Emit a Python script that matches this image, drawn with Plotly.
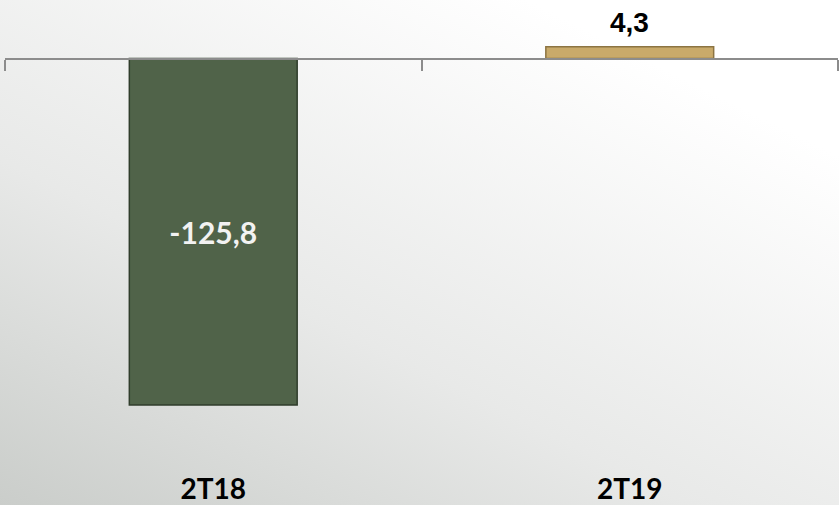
import base64
import plotly.graph_objects as go

categories = ["2T18", "2T19"]
values = [-125.8, 4.3]
bar_colors = ["#506349", "#c9aa6a"]
bar_edges = ["#2f3d2b", "#8c7442"]

W, H = 839, 505
M_L, M_R, M_T, M_B = 5, 1, 0, 35
y_min, y_max = -149.4, 21.24

svg = f'''<svg xmlns="http://www.w3.org/2000/svg" width="{W}" height="{H}">
<defs><linearGradient id="g" x1="0" y1="1" x2="0.75" y2="0.1">
<stop offset="0" stop-color="#cacdca"/>
<stop offset="0.45" stop-color="#e8e9e8"/>
<stop offset="1" stop-color="#ffffff"/>
</linearGradient></defs>
<rect width="{W}" height="{H}" fill="url(#g)"/></svg>'''
bg_src = "data:image/svg+xml;base64," + base64.b64encode(svg.encode()).decode()

inside_text = [f"{v:.1f}".replace(".", ",") if v < 0 else "" for v in values]

fig = go.Figure()
fig.add_trace(go.Bar(
    x=categories, y=values,
    marker=dict(color=bar_colors, line=dict(color=bar_edges, width=1.5)),
    width=0.403,
    text=inside_text,
    textposition="inside",
    insidetextanchor="middle",
    textfont=dict(family="Lato, Open Sans, sans-serif", size=30, color="#f2f2f2", weight="bold"),
    cliponaxis=False,
    hoverinfo="skip",
))

# labels above positive bars
for c, v in zip(categories, values):
    if v >= 0:
        fig.add_annotation(x=c, y=v, text=f"{v:.1f}".replace(".", ","), showarrow=False,
                           yanchor="bottom", yshift=7,
                           font=dict(family="Liberation Sans, Arial, sans-serif", size=28,
                                     color="#000000", weight="bold"))

# invisible helper trace so the zero-line axis is drawn
fig.add_trace(go.Scatter(x=[-0.5, 1.5], y=[0, 0], xaxis="x2", mode="lines",
                         line=dict(width=0), hoverinfo="skip", showlegend=False))

zero_pos = (0 - y_min) / (y_max - y_min)

fig.update_layout(
    width=W, height=H,
    margin=dict(l=M_L, r=M_R, t=M_T, b=M_B),
    paper_bgcolor="rgba(0,0,0,0)",
    plot_bgcolor="rgba(0,0,0,0)",
    showlegend=False,
    images=[dict(source=bg_src, xref="paper", yref="paper", x=-M_L / (W - M_L - M_R),
                 y=1 + M_T / (H - M_T - M_B), sizex=W / (W - M_L - M_R),
                 sizey=H / (H - M_T - M_B), xanchor="left", yanchor="top",
                 sizing="stretch", layer="below")],
    xaxis=dict(type="category", range=[-0.5, 1.5], showline=False, ticks="",
               showgrid=False, zeroline=False,
               tickfont=dict(family="Lato, Open Sans, sans-serif", size=28, color="#000000", weight="bold")),
    xaxis2=dict(overlaying="x", anchor="free", position=zero_pos, range=[-0.5, 1.5],
                showline=True, linecolor="#8c8c8c", linewidth=2,
                ticks="outside", ticklen=11, tickwidth=2, tickcolor="#8c8c8c",
                tickvals=[-0.5, 0.5, 1.5], showticklabels=False, showgrid=False, zeroline=False),
    yaxis=dict(range=[y_min, y_max], visible=False, showgrid=False, zeroline=False),
)

fig.write_html("out.html", config={"displayModeBar": False},
               post_script="document.body.style.margin='0px';")
